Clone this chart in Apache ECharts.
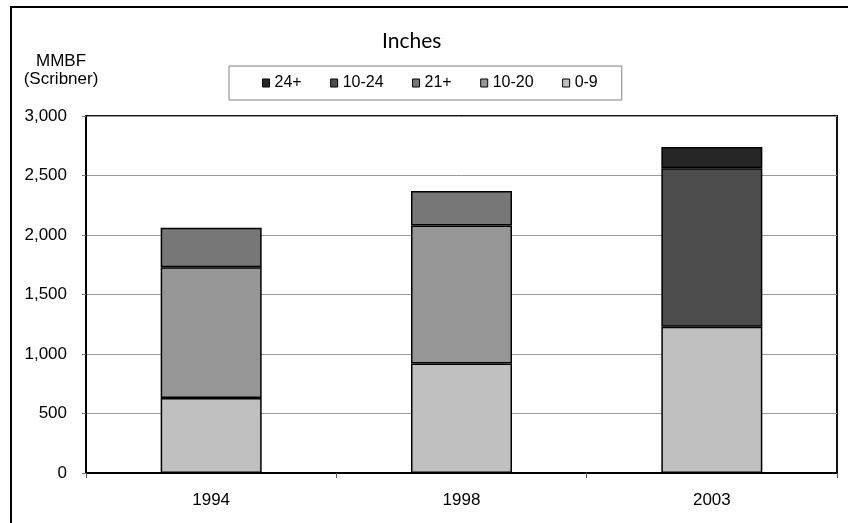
<!DOCTYPE html>
<html>
<head>
<meta charset="utf-8">
<script src="https://cdn.jsdelivr.net/npm/echarts@6/dist/echarts.min.js"></script>
<style>
  html, body { margin: 0; padding: 0; background: #fff; }
  #chart { width: 848px; height: 523px; }
</style>
</head>
<body>
<div id="chart"></div>
<script>
// Survey years along the x axis
const years = ['1994', '1998', '2003'];

// Volume by diameter class (MMBF, Scribner); null where the class was not used that year
const class0to9   = [630, 920, 1230];
const class10to20 = [1100, 1160, null];
const class21plus = [330, 290, null];
const class10to24 = [null, null, 1330];
const class24plus = [null, null, 180];

// Y axis ticks
const yTicks = [0, 500, 1000, 1500, 2000, 2500, 3000];

// Legend reads from the largest class down
const legendOrder = ['24+', '10-24', '21+', '10-20', '0-9'];

const seriesDefs = [
  { name: '0-9',   data: class0to9,   color: '#c0c0c0' },
  { name: '10-20', data: class10to20, color: '#969696' },
  { name: '21+',   data: class21plus, color: '#777777' },
  { name: '10-24', data: class10to24, color: '#4d4d4d' },
  { name: '24+',   data: class24plus, color: '#262626' }
];

const FONT = '"Liberation Sans", Arial, sans-serif';

const chart = echarts.init(document.getElementById('chart'), null, { renderer: 'canvas' });

chart.setOption({
  animation: false,
  backgroundColor: '#fff',
  textStyle: { fontFamily: FONT },
  title: {
    text: 'Inches',
    left: 382,
    top: 31,
    padding: 0,
    textStyle: { fontFamily: 'Lato, "Open Sans", sans-serif', fontSize: 21, fontWeight: 'normal', color: '#000' }
  },
  legend: {
    data: legendOrder,
    left: 229,
    top: 66,
    padding: [9, 24, 9, 33],
    itemGap: 28.5,
    itemWidth: 7,
    itemHeight: 8,
    borderColor: '#808080',
    borderWidth: 1,
    borderRadius: 0,
    icon: 'rect',
    itemStyle: { borderColor: '#000', borderWidth: 1 },
    textStyle: { fontFamily: FONT, fontSize: 16, color: '#000' }
  },
  grid: {
    left: 86,
    right: 11,
    top: 116,
    bottom: 50,
    show: true,
    borderColor: '#111',
    borderWidth: 2,
    containLabel: false
  },
  xAxis: {
    type: 'category',
    data: years,
    boundaryGap: true,
    axisLine: { lineStyle: { color: '#000', width: 2 } },
    axisTick: { show: true, length: 5, lineStyle: { color: '#555' } },
    axisLabel: { margin: 19, fontFamily: FONT, fontSize: 17, color: '#000' }
  },
  yAxis: {
    type: 'value',
    min: yTicks[0],
    max: yTicks[yTicks.length - 1],
    interval: yTicks[1] - yTicks[0],
    axisLine: { show: true, lineStyle: { color: '#000', width: 2 } },
    axisTick: { show: true, length: 4, lineStyle: { color: '#777' } },
    axisLabel: {
      margin: 19,
      fontFamily: FONT,
      fontSize: 17,
      color: '#000',
      formatter: v => v.toLocaleString('en-US')
    },
    splitLine: { show: true, lineStyle: { color: '#9a9a9a', width: 1 } }
  },
  series: seriesDefs.map(s => ({
    name: s.name,
    type: 'bar',
    stack: 'volume',
    data: s.data,
    barWidth: 101,
    itemStyle: { color: s.color, borderColor: '#000', borderWidth: 1.5 }
  })),
  graphic: [
    {
      type: 'rect',
      silent: true,
      shape: { x: 11, y: 7, width: 900, height: 600 },
      style: { fill: null, stroke: '#000', lineWidth: 2 },
      z: 100
    },
    {
      type: 'text',
      silent: true,
      x: 61,
      y: 52,
      style: {
        text: 'MMBF\n(Scribner)',
        fill: '#000',
        font: '17px ' + FONT,
        align: 'center',
        verticalAlign: 'top',
        lineHeight: 18
      }
    }
  ]
});
</script>
</body>
</html>
